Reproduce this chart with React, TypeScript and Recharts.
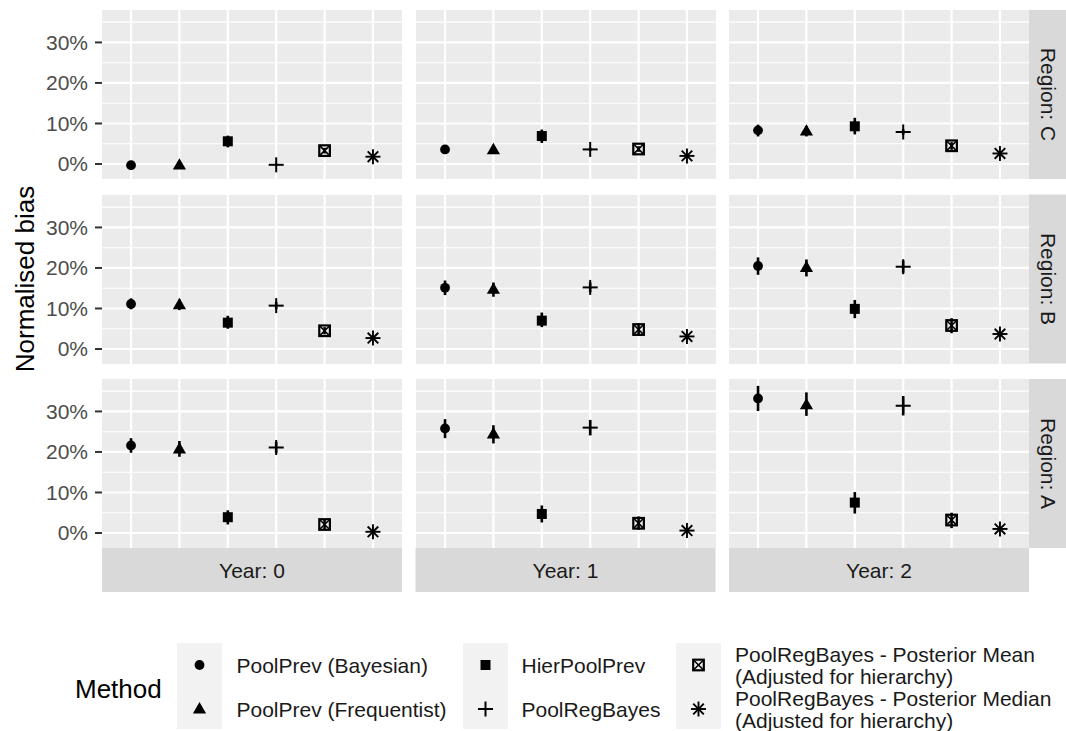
import React from 'react';
import { ScatterChart, Scatter, XAxis, YAxis, CartesianGrid, ErrorBar } from 'recharts';

// ---------- data ----------
const methods = [
  'PoolPrev (Bayesian)',
  'PoolPrev (Frequentist)',
  'HierPoolPrev',
  'PoolRegBayes',
  'PoolRegBayes - Posterior Mean (Adjusted for hierarchy)',
  'PoolRegBayes - Posterior Median (Adjusted for hierarchy)',
];
const methodShapes = ['circle', 'triangle', 'square', 'plus', 'squareCross', 'asterisk'];
const legendLines = [
  ['PoolPrev (Bayesian)'],
  ['PoolPrev (Frequentist)'],
  ['HierPoolPrev'],
  ['PoolRegBayes'],
  ['PoolRegBayes - Posterior Mean', '(Adjusted for hierarchy)'],
  ['PoolRegBayes - Posterior Median', '(Adjusted for hierarchy)'],
];
const regions = ['C', 'B', 'A'];
const years = ['0', '1', '2'];
const yTicks = [0, 10, 20, 30];
const yMinorTicks = [5, 15, 25, 35];
const yDomain = [-3.7, 38];

// normalised bias (%) — rows: Year 0, 1, 2; columns: methods in order
const biasRegionC = [
  [-0.3, -0.3, 5.6, -0.2, 3.3, 1.8],
  [3.6, 3.5, 6.9, 3.6, 3.7, 2.0],
  [8.3, 8.1, 9.3, 7.9, 4.5, 2.6],
];
const lowerRegionC = [
  [-0.8, -0.8, 4.1, -0.5, 2.6, 1.4],
  [3.1, 3.0, 5.2, 3.2, 3.0, 1.6],
  [6.8, 6.8, 7.3, 7.2, 3.5, 2.2],
];
const upperRegionC = [
  [0.2, 0.2, 7.0, 0.1, 4.0, 2.2],
  [4.1, 4.0, 8.5, 4.0, 4.4, 2.4],
  [9.7, 9.4, 11.4, 8.6, 5.4, 3.0],
];

const biasRegionB = [
  [11.1, 10.9, 6.5, 10.7, 4.5, 2.7],
  [15.1, 14.7, 7.0, 15.2, 4.8, 3.1],
  [20.5, 20.1, 9.9, 20.3, 5.8, 3.7],
];
const lowerRegionB = [
  [9.8, 9.6, 5.0, 9.8, 3.6, 2.3],
  [13.3, 12.9, 5.4, 14.0, 3.3, 2.7],
  [18.3, 17.9, 7.6, 18.8, 3.9, 3.3],
];
const upperRegionB = [
  [12.5, 12.2, 8.2, 11.6, 5.4, 3.1],
  [16.9, 16.4, 9.0, 16.4, 6.4, 3.5],
  [22.6, 22.1, 12.1, 21.8, 7.6, 4.1],
];

const biasRegionA = [
  [21.6, 20.7, 3.9, 21.1, 2.1, 0.3],
  [25.8, 24.4, 4.7, 26.0, 2.4, 0.6],
  [33.2, 31.6, 7.5, 31.4, 3.2, 1.0],
];
const lowerRegionA = [
  [19.8, 18.8, 2.1, 19.7, 0.6, -0.1],
  [23.4, 22.1, 2.6, 24.1, 0.8, 0.2],
  [30.1, 28.9, 4.8, 29.0, 1.2, 0.6],
];
const upperRegionA = [
  [23.4, 22.7, 5.6, 22.5, 3.4, 0.7],
  [28.1, 26.6, 6.8, 27.9, 4.1, 1.0],
  [36.3, 34.7, 10.1, 33.8, 5.0, 1.4],
];

const biasByRegion = [biasRegionC, biasRegionB, biasRegionA];
const lowerByRegion = [lowerRegionC, lowerRegionB, lowerRegionA];
const upperByRegion = [upperRegionC, upperRegionB, upperRegionA];

// ---------- layout ----------
const FONT = '"Liberation Sans", Arial, Helvetica, sans-serif';
const colLefts = [102, 415.5, 729];
const rowTops = [10, 194.5, 379];
const PANEL_W = 300;
const PANEL_H = 169;
const Y_AXIS_W = 62;
const STRIP = 44;

// ---------- symbols ----------
function Symbol({ kind, cx, cy }: { kind: string; cx: number; cy: number }) {
  const k = '#000';
  switch (kind) {
    case 'circle':
      return <circle cx={cx} cy={cy} r={4.9} fill={k} />;
    case 'triangle':
      return (
        <polygon
          points={`${cx},${cy - 7} ${cx - 6.6},${cy + 4.4} ${cx + 6.6},${cy + 4.4}`}
          fill={k}
        />
      );
    case 'square':
      return <rect x={cx - 5} y={cy - 5} width={10} height={10} fill={k} />;
    case 'plus':
      return (
        <g stroke={k} strokeWidth={2}>
          <line x1={cx - 7.5} y1={cy} x2={cx + 7.5} y2={cy} />
          <line x1={cx} y1={cy - 7.5} x2={cx} y2={cy + 7.5} />
        </g>
      );
    case 'squareCross':
      return (
        <g stroke={k} fill="none">
          <rect x={cx - 5.3} y={cy - 5.3} width={10.6} height={10.6} strokeWidth={2.2} />
          <line x1={cx - 5.3} y1={cy - 5.3} x2={cx + 5.3} y2={cy + 5.3} strokeWidth={1.6} />
          <line x1={cx - 5.3} y1={cy + 5.3} x2={cx + 5.3} y2={cy - 5.3} strokeWidth={1.6} />
        </g>
      );
    case 'asterisk': {
      const a = 7.5;
      const d = 5.3;
      return (
        <g stroke={k} strokeWidth={1.9}>
          <line x1={cx - a} y1={cy} x2={cx + a} y2={cy} />
          <line x1={cx} y1={cy - a} x2={cx} y2={cy + a} />
          <line x1={cx - d} y1={cy - d} x2={cx + d} y2={cy + d} />
          <line x1={cx - d} y1={cy + d} x2={cx + d} y2={cy - d} />
        </g>
      );
    }
    default:
      return null;
  }
}

function Panel({ r, c }: { r: number; c: number }) {
  const showY = c === 0;
  const width = PANEL_W + (showY ? Y_AXIS_W : 0);
  const left = colLefts[c] - (showY ? Y_AXIS_W : 0);
  const series = methods.map((m, i) => {
    const v = biasByRegion[r][c][i];
    const lo = lowerByRegion[r][c][i];
    const hi = upperByRegion[r][c][i];
    return { name: m, kind: methodShapes[i], data: [{ x: i + 1, y: v, err: [v - lo, hi - v] }] };
  });
  return (
    <div style={{ position: 'absolute', left, top: rowTops[r], width, height: PANEL_H }}>
      <ScatterChart width={width} height={PANEL_H} margin={{ top: 0, right: 0, bottom: 0, left: 0 }}>
        <XAxis type="number" dataKey="x" domain={[0.4, 6.6]} ticks={[1, 2, 3, 4, 5, 6]} hide />
        <YAxis
          type="number"
          dataKey="y"
          domain={yDomain}
          allowDataOverflow
          ticks={yTicks}
          hide={!showY}
          width={Y_AXIS_W}
          axisLine={false}
          tickSize={7}
          tickMargin={7}
          tickLine={{ stroke: '#333333', strokeWidth: 2 }}
          tick={{ fill: '#4d4d4d', fontSize: 21, fontFamily: FONT }}
          tickFormatter={(v: number) => `${v}%`}
        />
        <CartesianGrid
          fill="#ebebeb"
          stroke="#ffffff"
          strokeWidth={1.1}
          vertical={false}
          horizontalValues={yMinorTicks}
        />
        <CartesianGrid
          stroke="#ffffff"
          strokeWidth={2.2}
          horizontalValues={yTicks}
          verticalValues={[1, 2, 3, 4, 5, 6]}
        />
        {series.map((s) => (
          <Scatter
            key={s.name}
            name={s.name}
            data={s.data}
            isAnimationActive={false}
            shape={(p: any) => <Symbol kind={s.kind} cx={p.cx} cy={p.cy} />}
          >
            <ErrorBar
              dataKey="err"
              direction="y"
              width={0}
              stroke="#000"
              strokeWidth={2.6}
              isAnimationActive={false}
            />
          </Scatter>
        ))}
      </ScatterChart>
    </div>
  );
}

function Decorations() {
  const legendCols = [
    { keyL: 177, textX: 236.5, items: [0, 1] },
    { keyL: 463, textX: 521.5, items: [2, 3] },
    { keyL: 676, textX: 735, items: [4, 5] },
  ];
  const rowCentres = [665, 709];
  return (
    <svg
      width={1066}
      height={731}
      style={{ position: 'absolute', left: 0, top: 0, fontFamily: FONT }}
    >
      {/* bottom strips */}
      {years.map((y, c) => (
        <g key={'ys' + c}>
          <rect x={colLefts[c]} y={548} width={PANEL_W} height={STRIP} fill="#d9d9d9" />
          <text
            x={colLefts[c] + PANEL_W / 2}
            y={570}
            textAnchor="middle"
            dominantBaseline="central"
            fontSize={21}
            fill="#1a1a1a"
          >
            {`Year: ${y}`}
          </text>
        </g>
      ))}
      {/* right strips */}
      {regions.map((reg, r) => (
        <g key={'rs' + r}>
          <rect x={1029} y={rowTops[r]} width={STRIP} height={PANEL_H} fill="#d9d9d9" />
          <text
            x={0}
            y={0}
            transform={`translate(1048, ${rowTops[r] + PANEL_H / 2}) rotate(90)`}
            textAnchor="middle"
            dominantBaseline="central"
            fontSize={21}
            fill="#1a1a1a"
          >
            {`Region: ${reg}`}
          </text>
        </g>
      ))}
      {/* y-axis title */}
      <text
        transform={`translate(25, 279) rotate(-90)`}
        textAnchor="middle"
        dominantBaseline="central"
        fontSize={26}
        fill="#000"
      >
        Normalised bias
      </text>
      {/* legend */}
      <text x={75} y={689} dominantBaseline="central" fontSize={26} fill="#000">
        Method
      </text>
      {legendCols.map((col, ci) => (
        <g key={'lc' + ci}>
          <rect x={col.keyL} y={643} width={45} height={86} fill="#f2f2f2" />
          {col.items.map((mi, ri) => {
            const cy = rowCentres[ri];
            const lines = legendLines[mi];
            const lh = 22;
            return (
              <g key={'li' + mi}>
                <Symbol kind={methodShapes[mi]} cx={col.keyL + 22.5} cy={cy} />
                {lines.map((ln, li) => (
                  <text
                    key={li}
                    x={col.textX}
                    y={cy + (li - (lines.length - 1) / 2) * lh}
                    dominantBaseline="central"
                    fontSize={21}
                    fill="#1a1a1a"
                  >
                    {ln}
                  </text>
                ))}
              </g>
            );
          })}
        </g>
      ))}
    </svg>
  );
}

export default function App() {
  return (
    <div
      style={{
        position: 'absolute',
        left: 0,
        top: 0,
        width: 1066,
        height: 731,
        background: '#ffffff',
        overflow: 'hidden',
        fontFamily: FONT,
      }}
    >
      <Decorations />
      {regions.map((_, r) => years.map((__, c) => <Panel key={`${r}-${c}`} r={r} c={c} />))}
    </div>
  );
}
